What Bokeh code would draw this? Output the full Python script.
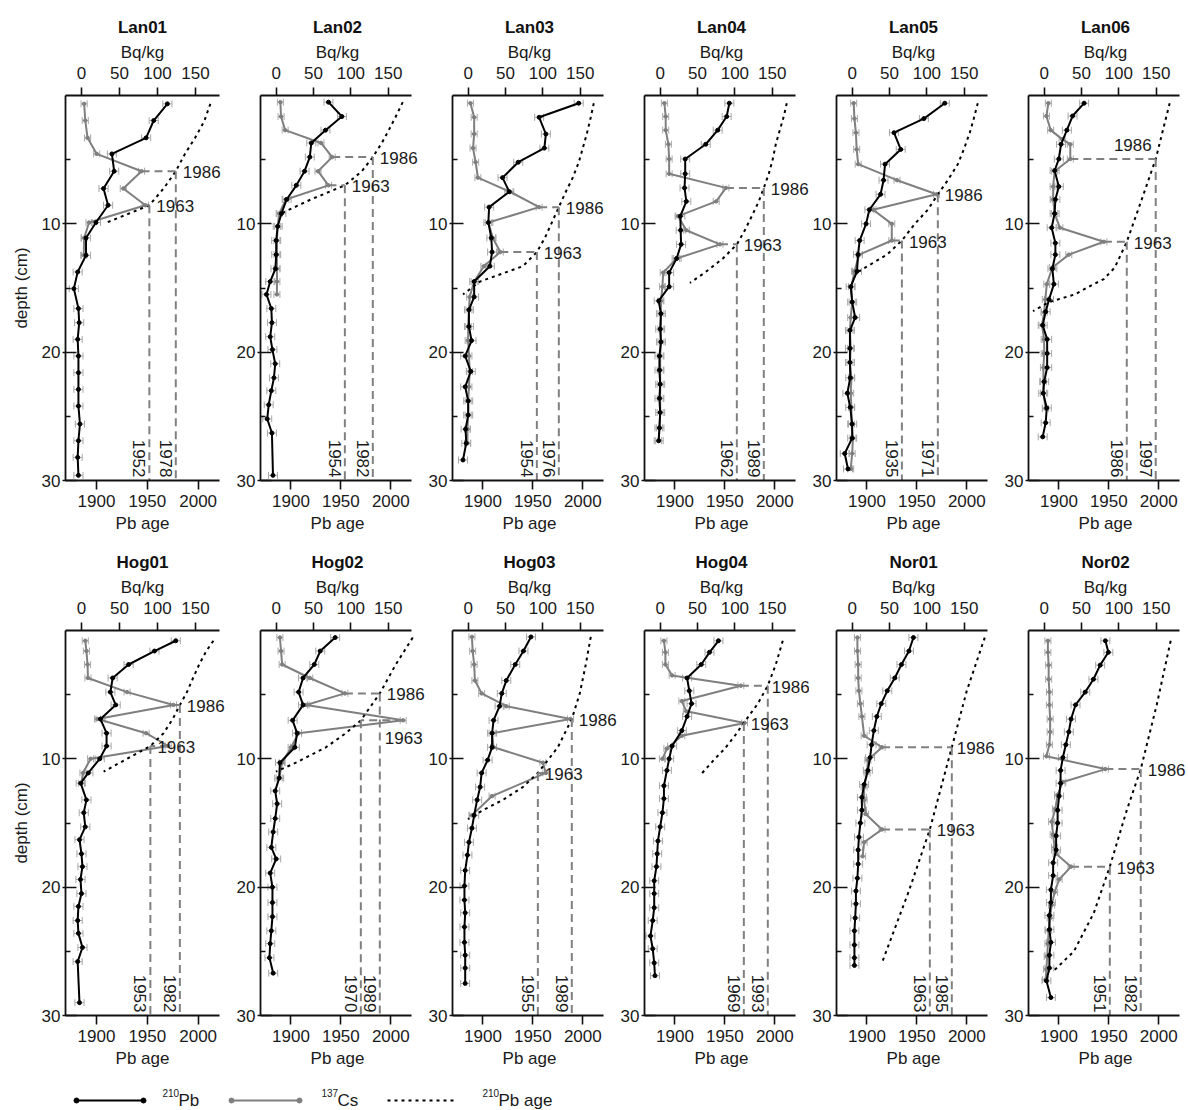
import math
from bokeh.plotting import figure
from bokeh.layouts import column, row
from bokeh.models import (Range1d, LinearAxis, FixedTicker, Whisker, ColumnDataSource, TeeHead,
                          Label, Title)
from bokeh.embed import file_html
from bokeh.resources import INLINE
from bokeh.core.properties import value

FONT = "Liberation Sans"
FS_PX = 17
FS = f"{FS_PX}px"
BQ_RANGE = (-21.0, 181.5)
AGE_RANGE = (1869.5, 2021.0)
PB_ERR = 6
CS_ERR = 4
PEAK_LABELS = ["1986", "1963"]

# ---------------- Lan01 ----------------
LAN01_PB_DEPTH = [0.65, 1.95, 3.3, 4.55, 5.9, 7.25, 8.55, 9.9, 11.1, 12.45, 13.75, 15.05, 16.6, 17.7, 19.0, 20.3, 21.6, 22.9, 24.2, 25.6, 26.9, 28.2, 29.6]
LAN01_PB = [113, 95, 85, 40, 43, 29, 35, 19, 6, 6, -5, -10, -4, -3, -5, -4, -4, -4, -4, -2, -4, -5, -4]
LAN01_CS_DEPTH = [0.65, 1.95, 3.3, 4.55, 5.9, 7.25, 8.55, 9.9, 11.1, 12.45]
LAN01_CS = [3.5, 5, 8, 20, 79, 55, 84, 10, 3.5, 3]
LAN01_AGE_DEPTH = [0.65, 2.0, 3.3, 4.55, 5.9, 7.25, 8.55, 9.9]
LAN01_AGE = [2012, 2006, 1997, 1987, 1978, 1966, 1952, 1910]
LAN01_PEAK_DEPTH = [5.9, 8.55]
LAN01_PEAK_CS = [79, 84]
LAN01_PEAK_YEAR = [1978, 1952]
LAN01_YEAR_TEXT = ["1978", "1952"]

# ---------------- Lan02 ----------------
LAN02_PB_DEPTH = [0.52, 1.64, 2.7, 3.7, 4.8, 5.9, 7.0, 8.1, 9.2, 10.2, 11.3, 12.4, 13.5, 14.5, 15.5, 16.6, 17.7, 18.8, 19.8, 20.9, 22.0, 23.0, 24.1, 25.2, 26.3, 29.6]
LAN02_PB = [70, 88, 66, 47, 45, 38, 27, 14, 7, 2, 0, 0, -1, -8, -13, -6.5, -5.7, -8, -5, -1.3, -3, -6.5, -10, -12, -5.7, -4.3]
LAN02_CS_DEPTH = [0.52, 1.64, 2.7, 3.7, 4.8, 5.9, 7.0, 8.1, 9.2, 10.2, 11.3, 12.4, 13.5, 14.5, 15.5]
LAN02_CS = [5.6, 6.5, 12, 60, 75, 56, 70, 13, 4, 2, 1, 1, 1, 1, 1]
LAN02_AGE_DEPTH = [0.52, 1.64, 2.7, 3.7, 4.8, 5.9, 7.0, 8.1, 9.2]
LAN02_AGE = [2012, 2005, 1998, 1991, 1982, 1971, 1954, 1920, 1890]
LAN02_PEAK_DEPTH = [4.8, 7.0]
LAN02_PEAK_CS = [75, 70]
LAN02_PEAK_YEAR = [1982, 1954]
LAN02_YEAR_TEXT = ["1982", "1954"]

# ---------------- Lan03 ----------------
LAN03_PB_DEPTH = [0.6, 1.7, 3.0, 4.1, 5.2, 6.4, 7.5, 8.7, 9.9, 11.1, 12.2, 13.3, 14.5, 15.7, 16.7, 18.0, 19.1, 20.3, 21.5, 22.7, 23.8, 24.9, 26.0, 27.1, 28.4]
LAN03_PB = [148, 95, 104, 102, 67, 46, 55, 28, 27, 31, 32, 29, 8, 8, 1, 1, 4.5, -4, 3.5, -4, 0, 0, -3.5, -2.6, -7]
LAN03_CS_DEPTH = [0.6, 1.7, 3.0, 4.1, 5.2, 6.4, 7.5, 8.7, 9.9, 11.1, 12.2, 13.3, 14.5, 15.7, 16.7, 18.0, 19.1, 20.3, 21.5, 22.7, 23.8, 24.9, 26.0, 27.1]
LAN03_CS = [3, 8, 8, 6.5, 10, 13, 56, 95, 27, 33, 43, 21, 8, 2, 1, 0, 0, 1, 2, 1, 0, 0, -1, -1]
LAN03_AGE_DEPTH = [0.6, 1.7, 3.0, 4.1, 5.2, 6.4, 7.5, 8.7, 9.9, 11.1, 12.2, 13.3, 14.5, 15.5]
LAN03_AGE = [2011, 2008, 2004, 2000, 1996, 1990, 1983, 1976, 1969, 1962, 1954, 1940, 1897, 1880]
LAN03_PEAK_DEPTH = [8.7, 12.2]
LAN03_PEAK_CS = [95, 43]
LAN03_PEAK_YEAR = [1976, 1954]
LAN03_YEAR_TEXT = ["1976", "1954"]

# ---------------- Lan04 ----------------
LAN04_PB_DEPTH = [0.6, 1.64, 2.7, 3.8, 4.95, 6.1, 7.2, 8.25, 9.4, 10.5, 11.6, 12.7, 13.8, 14.9, 16.0, 17.0, 18.2, 19.2, 20.3, 21.4, 22.5, 23.6, 24.7, 25.9, 26.9]
LAN04_PB = [92.6, 89, 77, 61, 33.5, 33.5, 32.6, 35, 27, 27.4, 28, 22, 12, 12, -2, 1, 0, 1, -1, -1, 0, -1, 0, -1, -2]
LAN04_CS_DEPTH = [0.6, 1.64, 2.7, 3.8, 4.95, 6.1, 7.2, 8.25, 9.4, 10.5, 11.6, 12.7, 13.8, 14.9, 16.0, 17.0, 18.2, 19.2, 20.3, 21.4, 22.5, 23.6, 24.7, 25.9, 26.9]
LAN04_CS = [5.6, 7.4, 7.4, 11, 12, 12, 88, 75, 24, 35, 80, 22, 4, 3, 1, 1, 1, 1, 0, 0, 0, 0, 0, -1, -2]
LAN04_AGE_DEPTH = [0.6, 1.64, 2.7, 3.8, 4.95, 6.1, 7.2, 8.25, 9.4, 10.5, 11.6, 12.7, 13.8, 14.6]
LAN04_AGE = [2012, 2009, 2005, 2001, 1998, 1994, 1989, 1984, 1977, 1970, 1962, 1948, 1930, 1915]
LAN04_PEAK_DEPTH = [7.2, 11.6]
LAN04_PEAK_CS = [88, 80]
LAN04_PEAK_YEAR = [1989, 1962]
LAN04_YEAR_TEXT = ["1989", "1962"]

# ---------------- Lan05 ----------------
LAN05_PB_DEPTH = [0.6, 1.8, 2.9, 4.2, 5.35, 6.6, 7.7, 8.9, 10.0, 11.3, 12.4, 13.7, 14.9, 16.1, 17.3, 18.3, 19.7, 20.8, 22.0, 23.2, 24.3, 25.6, 26.7, 27.9, 29.1]
LAN05_PB = [124, 96, 56, 65, 44, 42, 38, 23, 18.6, 10, 7.8, 6.5, -2, 0, 4, -3, -3, -3, -2.6, -6.5, -2.6, 0, 0, -10, -5.6]
LAN05_CS_DEPTH = [0.6, 1.8, 2.9, 4.2, 5.35, 6.6, 7.7, 8.9, 10.0, 11.3, 12.4, 13.7, 14.9, 16.1, 17.3, 18.3, 19.7, 20.8, 22.0, 23.2, 24.3, 25.6, 26.7, 27.9, 29.1]
LAN05_CS = [2, 3, 5, 6, 8, 60, 113, 28, 53, 53, 9.5, 3, -1, 0, -2, -3, -2, -3, -1, -2, -1, -1, 1, 0, -2]
LAN05_AGE_DEPTH = [0.6, 1.8, 2.9, 4.2, 5.35, 6.6, 7.7, 8.9, 10.0, 11.3, 12.4, 13.7]
LAN05_AGE = [2011, 2007, 2003, 1997, 1991, 1981, 1971, 1961, 1948, 1935, 1920, 1892]
LAN05_PEAK_DEPTH = [7.7, 11.3]
LAN05_PEAK_CS = [113, 53]
LAN05_PEAK_YEAR = [1971, 1935]
LAN05_YEAR_TEXT = ["1971", "1935"]

# ---------------- Lan06 ----------------
LAN06_PB_DEPTH = [0.6, 1.6, 2.7, 3.8, 4.95, 5.85, 7.1, 8.1, 9.2, 10.3, 11.5, 12.4, 13.5, 14.7, 15.9, 16.85, 17.9, 19.0, 20.1, 21.2, 22.3, 23.2, 24.35, 25.5, 26.6]
LAN06_PB = [53.5, 38, 30.4, 22.6, 19.6, 14, 19.6, 15, 14, 10, 15, 15, 11, 13, 6.5, 2, -2, 4, 4, 4, 0, -1.3, 3.5, 2, -2]
LAN06_CS_DEPTH = [0.6, 1.6, 2.7, 3.4, 3.8, 4.95, 5.9, 7.1, 8.1, 9.2, 10.3, 11.4, 12.4, 13.4, 14.7, 15.9, 16.9, 17.9, 19.0, 20.1, 21.2, 22.3, 23.2, 24.4]
LAN06_CS = [5.6, 3, 8.7, 24, 35, 35, 14, 12, 12, 14, 21, 80, 33, 11, 3.5, 1.5, 0, -3, 0, 0, -1, -1, -1, 2]
LAN06_AGE_DEPTH = [0.6, 4.95, 8.1, 11.4, 13.4, 14.3, 14.9, 15.5, 16.1, 16.8]
LAN06_AGE = [2011, 1997, 1983, 1968, 1956, 1945, 1930, 1916, 1890, 1874]
LAN06_PEAK_DEPTH = [4.95, 11.4]
LAN06_PEAK_CS = [35, 80]
LAN06_PEAK_YEAR = [1997, 1968]
LAN06_YEAR_TEXT = ["1997", "1986"]

# ---------------- Hog01 ----------------
HOG01_PB_DEPTH = [0.8, 1.6, 2.65, 3.7, 4.8, 5.8, 6.9, 8.0, 9.0, 10.0, 11.1, 11.9, 13.2, 14.2, 15.3, 16.3, 17.4, 18.4, 19.4, 20.5, 21.5, 22.6, 23.6, 24.7, 25.8, 29.0]
HOG01_PB = [124, 96, 62, 41, 38, 45, 25, 33, 33, 24, 9, -1, 6.5, 3, 5, -2.6, 0, 1.3, -1.3, 0, -4, -5, -4, 1.3, -5, -2.6]
HOG01_CS_DEPTH = [0.8, 1.6, 2.65, 3.7, 4.8, 5.8, 6.9, 8.0, 9.0, 10.0, 11.1, 11.9]
HOG01_CS = [5, 6.5, 8, 8.5, 60, 121, 21, 85, 114, 12, 2, 0]
HOG01_AGE_DEPTH = [0.8, 1.6, 2.65, 3.7, 4.8, 5.8, 6.9, 8.0, 9.0, 10.0, 11.0]
HOG01_AGE = [2015, 2008, 2001, 1995, 1989, 1982, 1975, 1966, 1953, 1930, 1907]
HOG01_PEAK_DEPTH = [5.8, 9.0]
HOG01_PEAK_CS = [121, 114]
HOG01_PEAK_YEAR = [1982, 1953]
HOG01_YEAR_TEXT = ["1982", "1953"]

# ---------------- Hog02 ----------------
HOG02_PB_DEPTH = [0.55, 1.6, 2.65, 3.7, 4.8, 5.8, 7.0, 8.0, 9.1, 10.3, 11.5, 12.5, 13.5, 14.65, 15.7, 16.9, 17.8, 18.9, 20.0, 21.2, 22.3, 23.4, 24.4, 25.5, 26.7]
HOG02_PB = [79, 59, 51, 36, 30, 36, 22, 28, 25, 5, 4, -1.3, 1.3, -1.3, -4, -6.5, 0, -8, -5, -5, -5, -6.5, -8, -9, -4]
HOG02_CS_DEPTH = [0.55, 1.6, 2.65, 3.7, 4.9, 5.8, 7.0, 8.0, 9.1, 10.3, 11.5]
HOG02_CS = [5, 6.5, 8, 45, 92, 40, 170, 30, 20, 8, 4]
HOG02_AGE_DEPTH = [0.55, 2.65, 4.9, 7.0, 8.0, 9.1, 10.3, 11.0]
HOG02_AGE = [2022, 2005, 1989, 1970, 1955, 1935, 1905, 1885]
HOG02_PEAK_DEPTH = [4.9, 7.0]
HOG02_PEAK_CS = [92, 170]
HOG02_PEAK_YEAR = [1989, 1970]
HOG02_YEAR_TEXT = ["1989", "1970"]

# ---------------- Hog03 ----------------
HOG03_PB_DEPTH = [0.5, 1.6, 2.65, 3.9, 4.9, 5.9, 7.0, 8.0, 9.1, 10.1, 11.1, 12.2, 13.2, 14.4, 15.4, 16.5, 17.5, 18.7, 19.9, 21.0, 22.0, 23.1, 24.3, 25.3, 26.3, 27.5]
HOG03_PB = [84, 74, 63, 51, 45, 42, 34, 32, 32, 26, 18, 16, 12, 8, 5, 1, -1, -4, -5, -5, -4, -5, -5, -4, -4, -4]
HOG03_CS_DEPTH = [0.5, 1.6, 2.65, 3.9, 4.9, 5.9, 6.9, 8.0, 9.1, 10.3, 11.1, 12.9, 14.4]
HOG03_CS = [5, 6, 8, 9, 18, 51, 137, 32, 34, 100, 104, 32, 5]
HOG03_AGE_DEPTH = [0.5, 2.65, 4.9, 6.9, 9.1, 11.1, 12.2, 13.2, 14.0, 14.7]
HOG03_AGE = [2008, 2003, 1997, 1989, 1975, 1955, 1940, 1920, 1900, 1885]
HOG03_PEAK_DEPTH = [6.9, 11.1]
HOG03_PEAK_CS = [137, 104]
HOG03_PEAK_YEAR = [1989, 1955]
HOG03_YEAR_TEXT = ["1989", "1955"]

# ---------------- Hog04 ----------------
HOG04_PB_DEPTH = [0.8, 1.7, 2.65, 3.7, 4.7, 5.7, 6.7, 7.8, 9.0, 10.0, 10.9, 12.1, 13.1, 14.2, 15.3, 16.4, 17.4, 18.4, 19.5, 20.5, 21.6, 22.6, 23.8, 24.8, 25.9, 26.9]
HOG04_PB = [78, 66, 55, 36, 39, 42, 36, 29, 16, 12, 9, 5, 5, 3, 0, -3, -4, -5, -8, -8, -8, -10, -13, -10, -8, -7]
HOG04_CS_DEPTH = [0.8, 1.7, 2.65, 3.5, 4.3, 5.5, 6.3, 7.2, 8.2, 9.2, 10.0]
HOG04_CS = [5, 7, 7, 16, 108, 29, 35, 113, 29, 9, 3]
HOG04_AGE_DEPTH = [0.8, 2.65, 4.3, 5.7, 7.2, 8.2, 9.2, 10.0, 11.3]
HOG04_AGE = [2008, 2001, 1993, 1983, 1969, 1960, 1950, 1940, 1925]
HOG04_PEAK_DEPTH = [4.3, 7.2]
HOG04_PEAK_CS = [108, 113]
HOG04_PEAK_YEAR = [1993, 1969]
HOG04_YEAR_TEXT = ["1993", "1969"]

# ---------------- Nor01 ----------------
NOR01_PB_DEPTH = [0.55, 1.6, 2.65, 3.7, 4.7, 5.7, 6.7, 7.8, 8.9, 9.9, 10.9, 12.0, 13.0, 14.0, 15.0, 16.1, 17.1, 18.2, 19.3, 20.3, 21.3, 22.4, 23.4, 24.5, 25.5, 26.1]
NOR01_PB = [82, 76, 66, 57, 47, 39, 33, 29, 26, 24, 21, 16, 13, 13, 11, 9, 8, 8, 7, 5, 5, 4, 3, 3, 3, 3]
NOR01_CS_DEPTH = [0.55, 1.6, 2.65, 3.7, 4.7, 5.7, 6.7, 8.2, 9.1, 10.1, 11.1, 12.2, 13.2, 14.3, 15.5, 16.5, 17.6]
NOR01_CS = [7, 7, 8, 8, 9, 11, 13, 16, 40, 21, 20, 16, 16, 18, 40, 16, 14]
NOR01_AGE_DEPTH = [0.55, 4.7, 9.1, 15.5, 20.3, 25.9]
NOR01_AGE = [2018, 2000, 1985, 1963, 1942, 1915]
NOR01_PEAK_DEPTH = [9.1, 15.5]
NOR01_PEAK_CS = [40, 40]
NOR01_PEAK_YEAR = [1985, 1963]
NOR01_YEAR_TEXT = ["1985", "1963"]

# ---------------- Nor02 ----------------
NOR02_PB_DEPTH = [0.8, 1.7, 2.7, 3.8, 4.8, 5.8, 6.9, 7.9, 8.9, 9.9, 10.9, 11.9, 12.9, 14.0, 15.0, 16.0, 17.1, 18.1, 19.1, 20.2, 21.2, 22.2, 23.3, 24.3, 25.3, 26.3, 27.3, 28.6]
NOR02_PB = [82, 86, 75, 66, 55, 42, 36, 33, 29, 25, 22, 22, 20, 18, 18, 16, 16, 12, 12, 9, 9, 7, 7, 9, 7, 7, 3, 9]
NOR02_CS_DEPTH = [0.8, 1.7, 2.7, 3.8, 4.8, 5.8, 6.9, 7.9, 8.9, 9.8, 10.8, 11.8, 12.8, 13.9, 14.9, 15.9, 16.9, 17.4, 18.4, 19.4, 20.4, 21.4, 22.4, 23.4, 24.4, 25.4, 26.4, 27.2]
NOR02_CS = [5, 5, 6, 6, 7, 7, 8, 8, 7, 3, 82, 25, 18, 15, 10, 12, 14, 16, 36, 20, 14, 10, 8, 6, 5, 4, 3, 2]
NOR02_AGE_DEPTH = [0.8, 5.8, 10.8, 14.0, 18.4, 22.0, 25.0, 26.5]
NOR02_AGE = [2012, 1998, 1982, 1968, 1951, 1935, 1915, 1895]
NOR02_PEAK_DEPTH = [10.8, 18.4]
NOR02_PEAK_CS = [82, 36]
NOR02_PEAK_YEAR = [1982, 1951]
NOR02_YEAR_TEXT = ["1982", "1951"]

ROW1 = [
    ("Lan01", LAN01_PB_DEPTH, LAN01_PB, LAN01_CS_DEPTH, LAN01_CS, LAN01_AGE_DEPTH, LAN01_AGE, LAN01_PEAK_DEPTH, LAN01_PEAK_CS, LAN01_PEAK_YEAR, LAN01_YEAR_TEXT),
    ("Lan02", LAN02_PB_DEPTH, LAN02_PB, LAN02_CS_DEPTH, LAN02_CS, LAN02_AGE_DEPTH, LAN02_AGE, LAN02_PEAK_DEPTH, LAN02_PEAK_CS, LAN02_PEAK_YEAR, LAN02_YEAR_TEXT),
    ("Lan03", LAN03_PB_DEPTH, LAN03_PB, LAN03_CS_DEPTH, LAN03_CS, LAN03_AGE_DEPTH, LAN03_AGE, LAN03_PEAK_DEPTH, LAN03_PEAK_CS, LAN03_PEAK_YEAR, LAN03_YEAR_TEXT),
    ("Lan04", LAN04_PB_DEPTH, LAN04_PB, LAN04_CS_DEPTH, LAN04_CS, LAN04_AGE_DEPTH, LAN04_AGE, LAN04_PEAK_DEPTH, LAN04_PEAK_CS, LAN04_PEAK_YEAR, LAN04_YEAR_TEXT),
    ("Lan05", LAN05_PB_DEPTH, LAN05_PB, LAN05_CS_DEPTH, LAN05_CS, LAN05_AGE_DEPTH, LAN05_AGE, LAN05_PEAK_DEPTH, LAN05_PEAK_CS, LAN05_PEAK_YEAR, LAN05_YEAR_TEXT),
    ("Lan06", LAN06_PB_DEPTH, LAN06_PB, LAN06_CS_DEPTH, LAN06_CS, LAN06_AGE_DEPTH, LAN06_AGE, LAN06_PEAK_DEPTH, LAN06_PEAK_CS, LAN06_PEAK_YEAR, LAN06_YEAR_TEXT),
]
ROW2 = [
    ("Hog01", HOG01_PB_DEPTH, HOG01_PB, HOG01_CS_DEPTH, HOG01_CS, HOG01_AGE_DEPTH, HOG01_AGE, HOG01_PEAK_DEPTH, HOG01_PEAK_CS, HOG01_PEAK_YEAR, HOG01_YEAR_TEXT),
    ("Hog02", HOG02_PB_DEPTH, HOG02_PB, HOG02_CS_DEPTH, HOG02_CS, HOG02_AGE_DEPTH, HOG02_AGE, HOG02_PEAK_DEPTH, HOG02_PEAK_CS, HOG02_PEAK_YEAR, HOG02_YEAR_TEXT),
    ("Hog03", HOG03_PB_DEPTH, HOG03_PB, HOG03_CS_DEPTH, HOG03_CS, HOG03_AGE_DEPTH, HOG03_AGE, HOG03_PEAK_DEPTH, HOG03_PEAK_CS, HOG03_PEAK_YEAR, HOG03_YEAR_TEXT),
    ("Hog04", HOG04_PB_DEPTH, HOG04_PB, HOG04_CS_DEPTH, HOG04_CS, HOG04_AGE_DEPTH, HOG04_AGE, HOG04_PEAK_DEPTH, HOG04_PEAK_CS, HOG04_PEAK_YEAR, HOG04_YEAR_TEXT),
    ("Nor01", NOR01_PB_DEPTH, NOR01_PB, NOR01_CS_DEPTH, NOR01_CS, NOR01_AGE_DEPTH, NOR01_AGE, NOR01_PEAK_DEPTH, NOR01_PEAK_CS, NOR01_PEAK_YEAR, NOR01_YEAR_TEXT),
    ("Nor02", NOR02_PB_DEPTH, NOR02_PB, NOR02_CS_DEPTH, NOR02_CS, NOR02_AGE_DEPTH, NOR02_AGE, NOR02_PEAK_DEPTH, NOR02_PEAK_CS, NOR02_PEAK_YEAR, NOR02_YEAR_TEXT),
]

# label placement styles (screen offsets, y positive = up), default: right of the intersection
LABEL_STYLE = {
    ("Lan06", 0): dict(align="right", dx=-4, dy=14),
    ("Hog02", 1): dict(align="left", dx=24, dy=-18),
    ("Hog04", 0): dict(align="left", dx=4, dy=-1),
    ("Nor01", 0): dict(align="left", dx=5, dy=-1),
}

PB_COLOR = "#000000"
CS_COLOR = "#7f7f7f"
EB_COLOR = "#a8a8a8"
REF_COLOR = "#808080"
AXIS_W = 154          # drawn axis length (px)
FRAME_H = 385
BQ_PER_PX = (BQ_RANGE[1] - BQ_RANGE[0]) / AXIS_W
AGE_PER_PX = (AGE_RANGE[1] - AGE_RANGE[0]) / AXIS_W

# Arial / Liberation Sans advance widths (1/1000 em), used to centre texts over the drawn axes
W_REG = {"B": 667, "q": 556, "/": 278, "k": 500, "g": 556, "P": 667, "b": 556, " ": 278,
         "a": 556, "e": 556}
W_BOLD = {"L": 611, "a": 556, "n": 611, "H": 722, "o": 611, "g": 611, "N": 722, "r": 389}


def text_w(s, bold=False):
    table = W_BOLD if bold else W_REG
    return sum(table.get(c, 556) for c in s) * FS_PX / 1000.0


def centred_offset(s, bold=False):
    return (AXIS_W - text_w(s, bold)) / 2.0


def yr_to_bq(y):
    return BQ_RANGE[0] + (y - AGE_RANGE[0]) * (BQ_RANGE[1] - BQ_RANGE[0]) / (AGE_RANGE[1] - AGE_RANGE[0])


def style_axis(ax):
    ax.axis_line_width = 1.8
    ax.axis_line_color = "#111111"
    ax.major_tick_line_width = 1.6
    ax.minor_tick_line_width = 1.6
    ax.major_tick_line_color = "#111111"
    ax.minor_tick_line_color = "#111111"
    ax.major_label_text_font = FONT
    ax.major_label_text_font_size = FS
    ax.major_label_text_color = "#1a1a1a"
    ax.axis_label_text_font = FONT
    ax.axis_label_text_font_size = FS
    ax.axis_label_text_font_style = "normal"
    ax.axis_label_text_color = "#1a1a1a"


def add_errorbars(p, depth, vals, err):
    src = ColumnDataSource(dict(y=depth, lo=[v - err for v in vals], hi=[v + err for v in vals]))
    w = Whisker(source=src, base="y", lower="lo", upper="hi", dimension="width",
                line_color=EB_COLOR, line_width=1,
                upper_head=TeeHead(size=7, line_color=EB_COLOR, line_width=1),
                lower_head=TeeHead(size=7, line_color=EB_COLOR, line_width=1))
    p.add_layout(w)


def side_title(text, standoff):
    return Title(text=text, align="left", offset=centred_offset(text), text_font=FONT,
                 text_font_size=FS, text_font_style="normal", text_color="#1a1a1a",
                 standoff=standoff)


def make_panel(data, col_idx, row_idx):
    name, pb_d, pb_v, cs_d, cs_v, age_d, age_v, pk_d, pk_cs, pk_yr, yr_txt = data
    first_col = col_idx == 0
    left = 65 if first_col else 24
    extra = 9 if col_idx == 5 else 14     # free space right of the axes (labels may overhang)
    top = 95 if row_idx == 0 else 87
    bottom = 63
    bq_end = BQ_RANGE[1] + extra * BQ_PER_PX
    age_end = AGE_RANGE[1] + extra * AGE_PER_PX
    p = figure(width=left + AXIS_W + extra, height=top + FRAME_H + bottom,
               x_range=Range1d(BQ_RANGE[0], bq_end), y_range=Range1d(30, 0),
               x_axis_location="above", toolbar_location=None, output_backend="svg",
               min_border_left=left, min_border_right=0,
               min_border_top=top, min_border_bottom=bottom)
    p.extra_x_ranges = {"age": Range1d(AGE_RANGE[0], age_end)}
    p.xgrid.visible = False
    p.ygrid.visible = False
    p.outline_line_color = None
    p.background_fill_color = "white"
    p.border_fill_color = "white"

    top_ax = p.xaxis[0]
    style_axis(top_ax)
    top_ax.bounds = BQ_RANGE
    top_ax.ticker = FixedTicker(ticks=[0, 50, 100, 150])
    top_ax.major_tick_out = 8
    top_ax.major_tick_in = 0
    top_ax.minor_tick_out = 0
    top_ax.minor_tick_in = 0
    top_ax.major_label_standoff = 9

    bot_ax = LinearAxis(x_range_name="age")
    style_axis(bot_ax)
    bot_ax.bounds = AGE_RANGE
    bot_ax.ticker = FixedTicker(ticks=[1900, 1950, 2000])
    bot_ax.major_tick_out = 9
    bot_ax.major_tick_in = 0
    bot_ax.minor_tick_out = 0
    bot_ax.minor_tick_in = 0
    bot_ax.major_label_standoff = 5
    p.add_layout(bot_ax, "below")

    # axis titles and panel title, centred over the drawn axes
    p.add_layout(side_title("Bq/kg", 4), "above")
    p.add_layout(side_title("Pb age", 4), "below")
    p.title = Title(text=name, align="left", offset=centred_offset(name, bold=True),
                    text_font=FONT, text_font_size=FS, text_font_style="bold",
                    text_color="#111111", standoff=4)

    y_ax = p.yaxis[0]
    style_axis(y_ax)
    y_ax.ticker = FixedTicker(ticks=[10, 20, 30], minor_ticks=[5, 15, 25])
    y_ax.major_tick_out = 3
    y_ax.major_tick_in = 11
    y_ax.minor_tick_out = 0
    y_ax.minor_tick_in = 5
    y_ax.major_label_standoff = 2
    if first_col:
        y_ax.axis_label = "depth (cm)"
        y_ax.axis_label_standoff = 8

    # 137Cs
    add_errorbars(p, cs_d, cs_v, CS_ERR)
    p.line(cs_v, cs_d, line_color=CS_COLOR, line_width=2)
    p.scatter(cs_v, cs_d, size=3.5, color=CS_COLOR)
    # 210Pb
    add_errorbars(p, pb_d, pb_v, PB_ERR)
    p.line(pb_v, pb_d, line_color=PB_COLOR, line_width=2)
    p.scatter(pb_v, pb_d, size=4, color=PB_COLOR)
    # 210Pb age curve
    p.line(age_v, age_d, x_range_name="age", line_color="black", line_width=2, line_dash="3 4")

    # reference lines and labels
    for i in range(len(pk_d)):
        p.line([pk_cs[i], yr_to_bq(pk_yr[i])], [pk_d[i], pk_d[i]], line_color=REF_COLOR,
               line_width=2, line_dash="8 5")
        p.line([pk_yr[i], pk_yr[i]], [pk_d[i], 30], x_range_name="age", line_color=REF_COLOR,
               line_width=2, line_dash="8 5")
        st = LABEL_STYLE.get((name, i), dict(align="left", dx=7, dy=-1))
        p.add_layout(Label(x=pk_yr[i], y=pk_d[i], x_range_name="age", text=PEAK_LABELS[i],
                           text_font=FONT, text_font_size=FS, text_color="#1a1a1a",
                           text_align=st["align"], text_baseline="middle",
                           x_offset=st["dx"], y_offset=st["dy"]))
        p.text(x=[pk_yr[i]], y=[30], text=[yr_txt[i]], x_range_name="age",
               text_font=value(FONT), text_font_size=FS, text_color="#1a1a1a",
               angle=-math.pi / 2, text_align="right", text_baseline="top",
               x_offset=-4, y_offset=-3)
    return p


row1 = row(*[make_panel(d, i, 0) for i, d in enumerate(ROW1)])
row2 = row(*[make_panel(d, i, 1) for i, d in enumerate(ROW2)])

# legend strip (screen-pixel coordinates)
LEG_H = 32
leg = figure(width=620, height=LEG_H, x_range=Range1d(0, 620), y_range=Range1d(LEG_H, 0),
             toolbar_location=None, output_backend="svg", x_axis_type=None, y_axis_type=None,
             min_border=0)
leg.xgrid.visible = False
leg.ygrid.visible = False
leg.outline_line_color = None
ly = 22
leg.line([76, 143], [ly, ly], line_color=PB_COLOR, line_width=2)
leg.scatter([76, 143], [ly, ly], size=5, color=PB_COLOR)
leg.line([231, 299], [ly, ly], line_color=CS_COLOR, line_width=2)
leg.scatter([231, 299], [ly, ly], size=5, color=CS_COLOR)
leg.line([387, 455], [ly, ly], line_color="black", line_width=2, line_dash="3 4")
for sx, sup, main in [(162, "210", "Pb"), (321, "137", "Cs"), (482, "210", "Pb age")]:
    leg.text(x=[sx], y=[ly - 4], text=[sup], text_font=value(FONT), text_font_size="10px",
             text_color="#1a1a1a", text_align="left", text_baseline="bottom")
    leg.text(x=[sx + 16], y=[ly], text=[main], text_font=value(FONT), text_font_size=FS,
             text_color="#1a1a1a", text_align="left", text_baseline="middle")

layout = column(row1, row2, leg)
open("out.html", "w").write(file_html(layout, INLINE))
